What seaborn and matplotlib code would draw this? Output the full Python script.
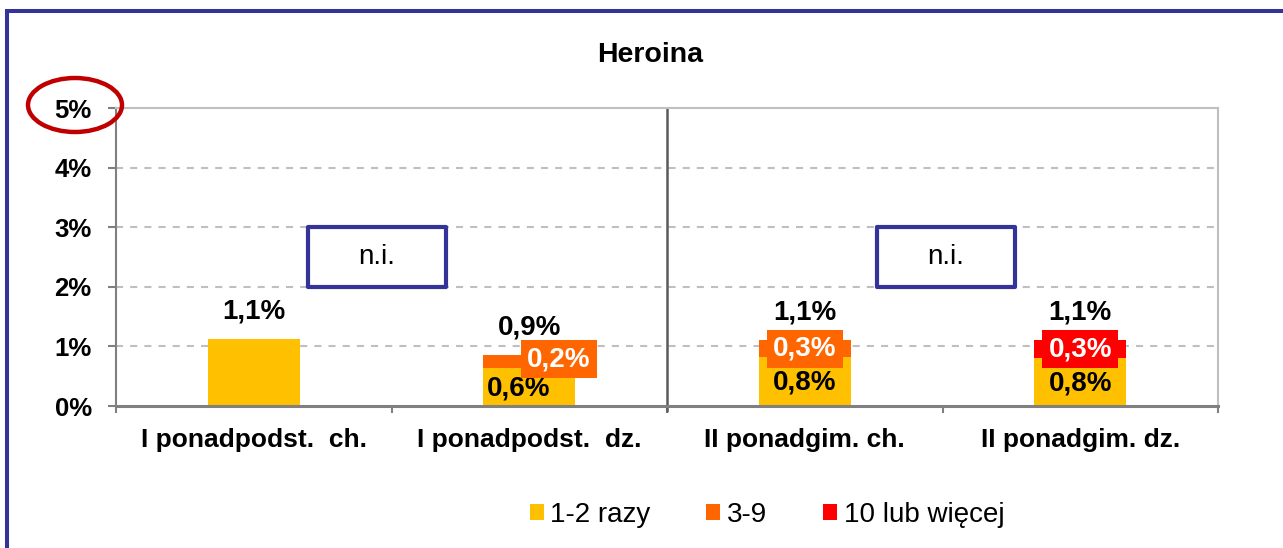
import matplotlib
matplotlib.use("Agg")
import matplotlib.pyplot as plt
import numpy as np
import pandas as pd
import seaborn as sns
from matplotlib.patches import Rectangle, Ellipse, Patch

# --- data (percent of students) ---
categories = ["I ponadpodst.  ch.", "I ponadpodst.  dz.",
              "II ponadgim. ch.", "II ponadgim. dz."]
series_names = ["1-2 razy", "3-9", "10 lub więcej"]
once_twice = [1.13, 0.64, 0.82, 0.80]
three_nine = [0.0, 0.22, 0.28, 0.0]
ten_plus = [0.0, 0.0, 0.0, 0.30]
y_ticks = [0, 1, 2, 3, 4, 5]
title = "Heroina"
no_data_label = "n.i."

# --- styling ---
colors = ["#FFC000", "#FF6600", "#FF0000"]
navy = "#333399"
W, H = 1283, 548

sns.set_theme(style="white")
plt.rcParams["font.family"] = ["Liberation Sans", "DejaVu Sans"]
plt.rcParams["text.color"] = "black"
plt.rcParams["axes.labelcolor"] = "black"

fig = plt.figure(figsize=(W / 100, H / 100), dpi=100)
ax = fig.add_axes([116 / W, 1 - 406 / H, (1218 - 116) / W, (406 - 108) / H])

segments = np.array([once_twice, three_nine, ten_plus])
tops = np.cumsum(segments, axis=0)

# stacked bars: draw the cumulative tops from the highest layer down
for i in reversed(range(len(series_names))):
    df = pd.DataFrame({"cat": categories, "val": tops[i], "seg": segments[i]})
    df = df[df["seg"] > 0]
    sns.barplot(data=df, x="cat", y="val", order=categories, color=colors[i],
                width=0.334, saturation=1, errorbar=None, linewidth=0,
                ax=ax, zorder=2)

ax.set_xlim(-0.5, 3.5)
ax.set_ylim(0, 5)
ax.set_xlabel("")
ax.set_ylabel("")

# axes frame
for side, (col, lw) in {"top": ("#BFBFBF", 1.5), "right": ("#BFBFBF", 1.5),
                        "left": ("#808080", 1.5), "bottom": ("#808080", 2.2)}.items():
    ax.spines[side].set_color(col)
    ax.spines[side].set_linewidth(lw)
    ax.spines[side].set_zorder(3)

# y axis
ax.set_yticks(y_ticks)
ax.set_yticklabels([f"{t}%" for t in y_ticks], fontsize=18.5, fontweight="bold")
ax.tick_params(axis="y", left=True, direction="out", length=6, width=1.5,
               color="#808080", pad=11.5, labelcolor="black")
for t in y_ticks[1:-1]:
    ax.axhline(t, color="#BFBFBF", lw=1.5, linestyle=(0, (3.4, 3.4)), zorder=1)

# x axis: labels at category centres, tick marks at category borders
ax.set_xticks(range(len(categories)))
ax.set_xticklabels(categories, fontsize=19, fontweight="bold")
ax.tick_params(axis="x", which="major", bottom=True, length=0, pad=15.5,
               labelcolor="black")
ax.set_xticks(np.arange(-0.5, len(categories), 1.0), minor=True)
ax.tick_params(axis="x", which="minor", bottom=True, direction="out", length=5,
               width=1.5, color="#808080")

# separator between the two school levels
ax.axvline(1.5, ymin=-0.017, ymax=1, color="#5A5A5A", lw=1.8, clip_on=False,
           zorder=3)

# "n.i." boxes
for x0, x1 in [(0.197, 0.698), (2.262, 2.763)]:
    ax.add_patch(Rectangle((x0, 2), x1 - x0, 1, facecolor="white",
                           edgecolor=navy, lw=3, joinstyle="round", zorder=4))
    ax.text((x0 + x1) / 2, 2.5, no_data_label, ha="center", va="center",
            fontsize=20, color="black", zorder=5)


def pct(v):
    return f"{v:.1f}".replace(".", ",") + "%"


# totals above bars
totals = tops[-1]
for j, tot in enumerate(totals):
    ax.annotate(pct(tot), (j, tot), xytext=(0, 19.8), textcoords="offset points",
                ha="center", va="center", fontsize=20, fontweight="bold",
                color="black", zorder=6)

# segment labels (only for bars that have more than one part)
nudges = {(1, 0): (-8, 0), (1, 1): (21.5, 1.5)}
for j in range(len(categories)):
    if np.count_nonzero(segments[:, j]) < 2:
        continue
    for i in range(len(series_names)):
        seg = segments[i, j]
        if seg <= 0:
            continue
        mid = tops[i, j] - seg / 2
        dx, dy = nudges.get((j, i), (0, 0))
        if i == 0:
            ax.annotate(pct(seg), (j, mid), xytext=(dx, dy - 1),
                        textcoords="offset points", ha="center", va="center",
                        fontsize=20, fontweight="bold", color="black", zorder=6)
        else:
            ax.annotate(pct(seg), (j, mid), xytext=(dx, dy),
                        textcoords="offset points", ha="center", va="center",
                        fontsize=20, fontweight="bold", color="white", zorder=6,
                        bbox=dict(boxstyle="square,pad=0.22", facecolor=colors[i],
                                  edgecolor="none"))

# title
fig.text(650 / W, 1 - 55 / H, title, ha="center", va="center",
         fontsize=20.5, fontweight="bold", color="black")

# legend
handles = [Patch(facecolor=c, edgecolor="none") for c in colors]
fig.legend(handles, series_names, loc="center", bbox_to_anchor=(767 / W, 1 - 515 / H),
           ncol=3, frameon=False, fontsize=20, handlelength=0.5, handleheight=0.5,
           handletextpad=0.25, columnspacing=2.0, borderpad=0, labelcolor="black")

# outer frame and highlight around the 5% mark
fig.add_artist(Rectangle((7.3 / W, -0.1), 1.2, 1 - 11.3 / H + 0.1,
                         transform=fig.transFigure, fill=False,
                         edgecolor=navy, lw=2.9))
fig.add_artist(Ellipse((75 / W, 1 - 105 / H), 94 / W, 54 / H,
                       transform=fig.transFigure, fill=False,
                       edgecolor="#C00000", lw=3.2))

fig.savefig("out.png", dpi=100)
